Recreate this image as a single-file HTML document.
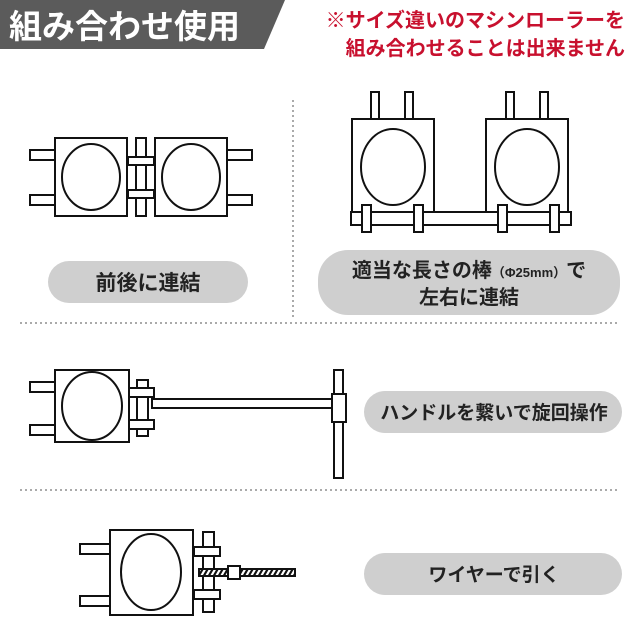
<!DOCTYPE html>
<html><head><meta charset="utf-8"><style>
body{margin:0;background:#fff;}
svg{display:block;font-family:"Liberation Sans","Noto Sans CJK JP",sans-serif;}
</style></head><body>
<svg width="640" height="640" viewBox="0 0 640 640">
<defs>
<pattern id="hatch" width="5" height="10" patternUnits="userSpaceOnUse" patternTransform="skewX(-30)">
<rect width="5" height="10" fill="#fff"/><rect width="2.5" height="10" fill="#111"/></pattern>
</defs>
<polygon points="0,0 285,0 264,49 0,49" fill="#5b5b5b"/>
<text x="9" y="38" font-size="33" font-weight="bold" fill="#fff">組み合わせ使用</text>
<text x="625" y="27" font-size="20" font-weight="bold" fill="#c8102e" text-anchor="end">※サイズ違いのマシンローラーを</text>
<text x="625" y="55" font-size="20" font-weight="bold" fill="#c8102e" text-anchor="end">組み合わせることは出来ません</text>
<line x1="293" y1="100" x2="293" y2="318" stroke="#aaa" stroke-width="2" stroke-dasharray="2,3"/>
<line x1="20" y1="323" x2="620" y2="323" stroke="#aaa" stroke-width="2" stroke-dasharray="2,3"/>
<line x1="20" y1="490" x2="620" y2="490" stroke="#aaa" stroke-width="2" stroke-dasharray="2,3"/>
<g fill="#fff" stroke="#111" stroke-width="2">
<rect x="30" y="150" width="25" height="10"/><rect x="30" y="195" width="25" height="10"/>
<rect x="55" y="138" width="72" height="78"/><ellipse cx="91" cy="177" rx="29" ry="33"/>
<rect x="136" y="138" width="10" height="78"/><rect x="128" y="157" width="26" height="8"/><rect x="128" y="190" width="26" height="8"/>
<rect x="155" y="138" width="72" height="78"/><ellipse cx="191" cy="177" rx="29" ry="33"/>
<rect x="227" y="150" width="25" height="10"/><rect x="227" y="195" width="25" height="10"/>
<rect x="371" y="92" width="8" height="27"/><rect x="405" y="92" width="8" height="27"/>
<rect x="506" y="92" width="8" height="27"/><rect x="540" y="92" width="8" height="27"/>
<rect x="352" y="119" width="82" height="96"/><ellipse cx="393" cy="167" rx="32" ry="38"/>
<rect x="486" y="119" width="82" height="96"/><ellipse cx="527" cy="167" rx="32" ry="38"/>
<rect x="351" y="212" width="220" height="13"/>
<rect x="362" y="205" width="9" height="27"/><rect x="414" y="205" width="9" height="27"/>
<rect x="498" y="205" width="9" height="27"/><rect x="550" y="205" width="9" height="27"/>
<rect x="30" y="382" width="25" height="10"/><rect x="30" y="425" width="25" height="10"/>
<rect x="55" y="370" width="74" height="72"/><ellipse cx="92" cy="406" rx="30" ry="34"/>
<rect x="137" y="380" width="11" height="56"/><rect x="129" y="388" width="25" height="9"/><rect x="129" y="420" width="25" height="9"/>
<rect x="152" y="399" width="180" height="9"/>
<rect x="334" y="370" width="9" height="108"/><rect x="332" y="394" width="14" height="28"/>
<rect x="80" y="544" width="30" height="10"/><rect x="80" y="596" width="30" height="10"/>
<rect x="110" y="530" width="83" height="85"/><ellipse cx="151" cy="572" rx="30" ry="38"/>
<rect x="203" y="532" width="11" height="80"/><rect x="194" y="547" width="26" height="9"/><rect x="194" y="590" width="26" height="9"/>
<rect x="199" y="569" width="96" height="7" fill="url(#hatch)"/>
<rect x="228" y="566" width="12" height="13"/>
</g>
<g font-weight="bold" fill="#222" text-anchor="middle">
<rect x="48" y="261" width="200" height="42" rx="21" fill="#cfcfcf"/>
<text x="148" y="290" font-size="21">前後に連結</text>
<rect x="318" y="250" width="302" height="65" rx="30" fill="#cfcfcf"/>
<text x="469" y="277" font-size="20">適当な長さの棒<tspan font-size="13">（Φ25mm）</tspan>で</text>
<text x="469" y="304" font-size="20">左右に連結</text>
<rect x="364" y="391" width="258" height="42" rx="21" fill="#cfcfcf"/>
<text x="494" y="419" font-size="19">ハンドルを繋いで旋回操作</text>
<rect x="364" y="553" width="258" height="42" rx="21" fill="#cfcfcf"/>
<text x="494" y="581" font-size="19">ワイヤーで引く</text>
</g>
</svg>
</body></html>
